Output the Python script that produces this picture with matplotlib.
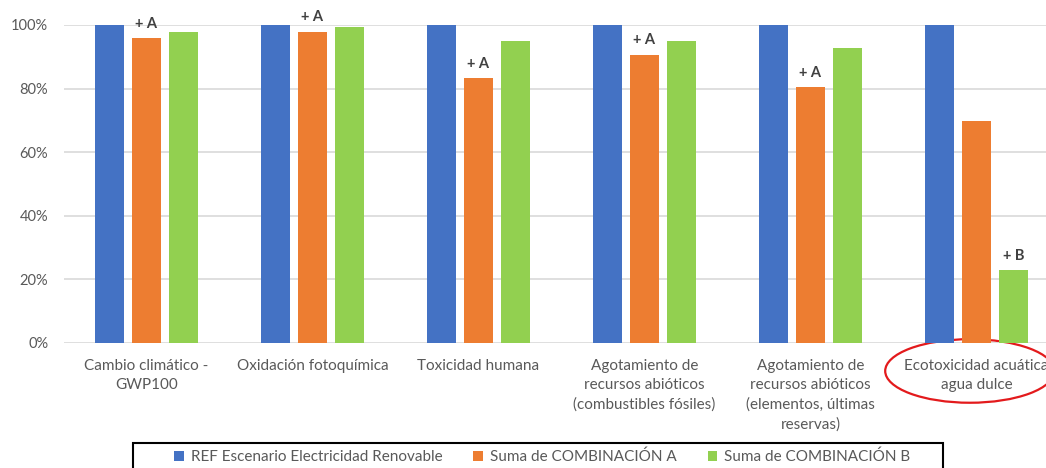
import matplotlib
matplotlib.use("Agg")
import matplotlib.pyplot as plt
from matplotlib.patches import Ellipse, Rectangle
from matplotlib.ticker import PercentFormatter
import numpy as np

categories = [
    "Cambio climático -\nGWP100",
    "Oxidación fotoquímica",
    "Toxicidad humana",
    "Agotamiento de\nrecursos abióticos\n(combustibles fósiles)",
    "Agotamiento de\nrecursos abióticos\n(elementos, últimas\nreservas)",
    "Ecotoxicidad acuática\nagua dulce",
]
series_names = [
    "REF Escenario Electricidad Renovable",
    "Suma de COMBINACIÓN A",
    "Suma de COMBINACIÓN B",
]
ref_values = [1.00, 1.00, 1.00, 1.00, 1.00, 1.00]
comb_a_values = [0.958, 0.979, 0.832, 0.906, 0.804, 0.698]
comb_b_values = [0.978, 0.995, 0.950, 0.950, 0.929, 0.228]
# Which series carries the "+ X" note in each category
notes = ["+ A", "+ A", "+ A", "+ A", "+ A", "+ B"]
note_series = [1, 1, 1, 1, 1, 2]
yticks = [0, 0.2, 0.4, 0.6, 0.8, 1.0]

colors = ["#4472C4", "#ED7D31", "#92D050"]
text_gray = "#595959"

plt.rcParams["font.family"] = ["Lato", "DejaVu Sans"]

W, H = 1046, 468
fig = plt.figure(figsize=(W / 100, H / 100), dpi=100)
ax = fig.add_axes([63.5 / W, 125.3 / H, 996 / W, 317.7 / H])

x = np.arange(len(categories))
width = 0.172
step = 0.222
all_series = [ref_values, comb_a_values, comb_b_values]
bars = []
for i, (vals, name, c) in enumerate(zip(all_series, series_names, colors)):
    b = ax.bar(x + (i - 1) * step, vals, width, color=c, label=name, zorder=3)
    bars.append(b)

for k, (txt, s) in enumerate(zip(notes, note_series)):
    v = all_series[s][k]
    ax.annotate(txt, xy=(x[k] + (s - 1) * step, v), xytext=(0, 5.5),
                textcoords="offset points", ha="center", va="bottom",
                fontsize=10.5, fontweight="bold", color="#404040",
                annotation_clip=False)

ax.set_xlim(-0.5, len(categories) - 0.5)
ax.set_ylim(0, 1.0)
ax.set_yticks(yticks)
ax.yaxis.set_major_formatter(PercentFormatter(1.0, decimals=0))
ax.set_xticks(x)
ax.set_xticklabels(categories, fontsize=11, color=text_gray, linespacing=1.5)
ax.tick_params(axis="x", length=0, pad=11.5)
ax.tick_params(axis="y", length=0, pad=11, labelsize=10.5, labelcolor=text_gray)
ax.grid(axis="y", color="#D9D9D9", linewidth=1.2, zorder=0)
for sp in ax.spines.values():
    sp.set_visible(False)

# highlight around the last category label
ax.add_patch(Ellipse((x[-1] - 0.04, -0.089), 1.02, 0.2, fill=False,
                     edgecolor="#E31A1C", linewidth=1.6, clip_on=False,
                     transform=ax.transData))

# legend entries, with a square frame running off the bottom edge
leg = fig.legend(handles=bars, labels=series_names, loc="center",
                 bbox_to_anchor=(542.5 / W, 1 - 457 / H), ncol=3,
                 fontsize=11, frameon=False, handlelength=0.6,
                 handleheight=0.6, handletextpad=0.5, columnspacing=2.0,
                 borderaxespad=0, labelcolor=text_gray)
fig.add_artist(Rectangle((133 / W, -0.1), (943 - 133) / W,
                         (1 - 442.7 / H) + 0.1, fill=False,
                         edgecolor="black", linewidth=1.5,
                         transform=fig.transFigure, clip_on=False))

fig.savefig("out.png", dpi=100)
